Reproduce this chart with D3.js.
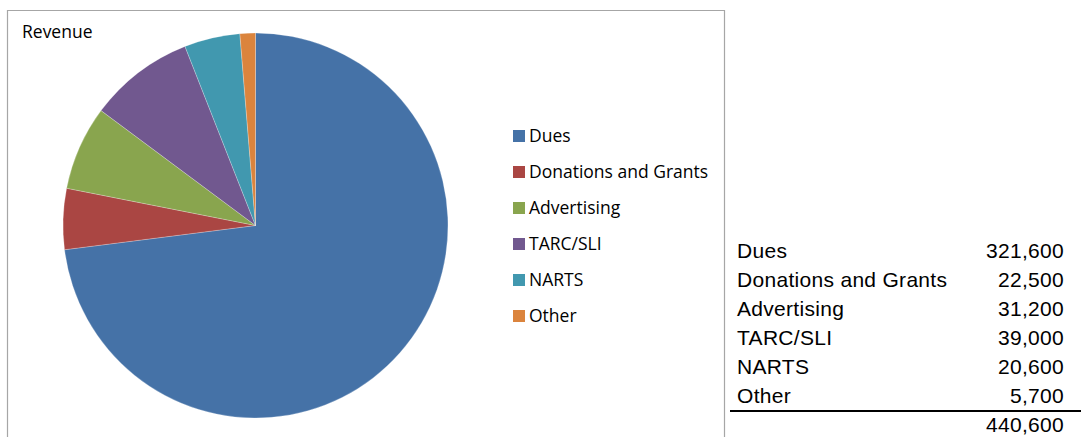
<!DOCTYPE html>
<html>
<head>
<meta charset="utf-8">
<script src="https://cdn.jsdelivr.net/npm/d3@7"></script>
<style>
  body { margin: 0; background: #fff; }
  svg { display: block; }
  .title, .legend-label { font-family: "Open Sans", sans-serif; font-size: 17.5px; fill: #000; }
  .table-text { font-family: "Liberation Sans", Arial, sans-serif; font-size: 21px; letter-spacing: 0.3px; fill: #000; }
</style>
</head>
<body>
<svg id="chart"></svg>
<script>
// revenue categories and amounts
const categories = ['Dues', 'Donations and Grants', 'Advertising', 'TARC/SLI', 'NARTS', 'Other'];
const amounts = [321600, 22500, 31200, 39000, 20600, 5700];
const sliceColors = ['#4572A7', '#AA4643', '#89A54E', '#71588F', '#4198AF', '#DB843D'];

const width = 1081, height = 437;

const svg = d3.select('#chart')
    .attr('width', width)
    .attr('height', height);

// chart frame (bottom edge is cut off)
svg.append('path')
    .attr('d', `M7.5,${height} V10.5 H724.5 V${height}`)
    .attr('fill', 'none')
    .attr('stroke', '#a6a6a6')
    .attr('stroke-width', 1.2);

svg.append('text')
    .attr('class', 'title')
    .attr('x', 22)
    .attr('y', 38)
    .text('Revenue');

const data = categories.map((c, i) => ({ name: c, value: amounts[i] }));

const color = d3.scaleOrdinal()
    .domain(categories)
    .range(sliceColors);

const pie = d3.pie()
    .value(d => d.value)
    .sort(null);

const arc = d3.arc()
    .innerRadius(0)
    .outerRadius(192.5);

const pieGroup = svg.append('g')
    .attr('transform', 'translate(255.5,225.5)');

pieGroup.selectAll('path')
    .data(pie(data))
    .join('path')
    .attr('d', arc)
    .attr('fill', d => color(d.data.name))
    .attr('stroke', '#ffffff')
    .attr('stroke-opacity', 0.35)
    .attr('stroke-width', 0.7);

// legend
const legendY = d3.scalePoint()
    .domain(categories)
    .range([136, 316]);

const legend = svg.append('g');

const items = legend.selectAll('g')
    .data(categories)
    .join('g')
    .attr('transform', d => `translate(513,${legendY(d)})`);

items.append('rect')
    .attr('x', 0)
    .attr('y', -6)
    .attr('width', 12)
    .attr('height', 12)
    .attr('fill', d => color(d));

items.append('text')
    .attr('class', 'legend-label')
    .attr('x', 16)
    .attr('y', 6)
    .text(d => d);

// data table on the right
const rowY = d3.scalePoint()
    .domain(d3.range(categories.length + 1))
    .range([257.5, 432]);

const fmt = d3.format(',');

const table = svg.append('g');

table.selectAll('.row-label')
    .data(categories)
    .join('text')
    .attr('class', 'table-text row-label')
    .attr('x', 737)
    .attr('y', (d, i) => rowY(i))
    .text(d => d);

table.selectAll('.row-value')
    .data(amounts)
    .join('text')
    .attr('class', 'table-text row-value')
    .attr('x', 1064)
    .attr('y', (d, i) => rowY(i))
    .attr('text-anchor', 'end')
    .text(d => fmt(d));

table.append('line')
    .attr('x1', 730)
    .attr('x2', 1081)
    .attr('y1', 411)
    .attr('y2', 411)
    .attr('stroke', '#000')
    .attr('stroke-width', 2);

table.append('text')
    .attr('class', 'table-text')
    .attr('x', 1064)
    .attr('y', rowY(categories.length))
    .attr('text-anchor', 'end')
    .text(fmt(d3.sum(amounts)));
</script>
</body>
</html>
